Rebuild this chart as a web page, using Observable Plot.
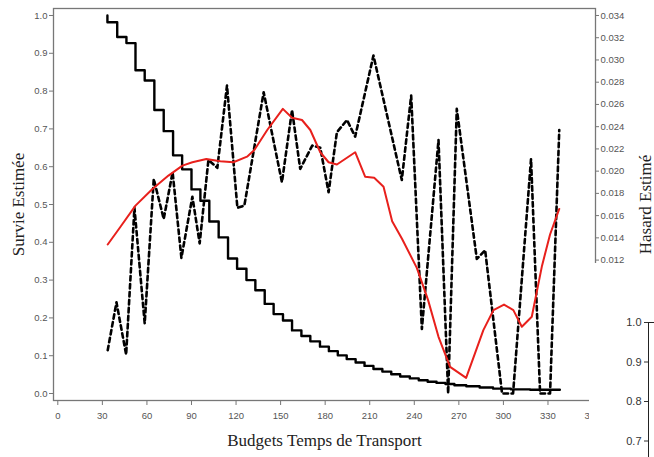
<!DOCTYPE html>
<html><head><meta charset="utf-8">
<script src="https://cdn.jsdelivr.net/npm/d3@7"></script>
<script src="https://cdn.jsdelivr.net/npm/@observablehq/plot@0.6"></script>
<style>
html,body{margin:0;padding:0;background:#fff;}
#wrap{position:relative;width:654px;height:457px;overflow:hidden;background:#fff;}
#mask{position:absolute;left:589px;top:263px;width:65px;height:194px;background:#fff;overflow:hidden;}
#frag{position:absolute;left:20px;top:37px;width:70px;height:190px;}
svg{display:block;max-width:none !important;}
</style></head><body>
<div id="wrap"><div id="main"></div><div id="mask"><div id="frag"></div></div></div>
<script>
// ---- tick labels ----
const xTicks = [0, 30, 60, 90, 120, 150, 180, 210, 240, 270, 300, 330, 360];
const survTicks = [0, 0.1, 0.2, 0.3, 0.4, 0.5, 0.6, 0.7, 0.8, 0.9, 1.0];
const hazTicks = [0.012, 0.014, 0.016, 0.018, 0.020, 0.022, 0.024, 0.026, 0.028, 0.030, 0.032, 0.034];
const fragTicks = [0.7, 0.8, 0.9, 1.0];

// ---- axis titles ----
const xTitle = "Budgets Temps de Transport";
const yLeftTitle = "Survie Estimée";
const yRightTitle = "Hasard Estimé";

// ---- Kaplan-Meier survival (step) ----
const survTime = [33.4, 33.4, 40.0, 46.2, 52.3, 58.5, 65.0, 71.3, 77.6, 83.7, 90.0, 96.0, 102.0, 108.3, 114.6, 120.7, 127.0, 133.0, 139.3, 145.3, 151.6, 157.7, 164.0, 170.0, 176.5, 182.5, 188.5, 194.5, 200.5, 206.5, 212.5, 218.5, 224.5, 230.5, 237.0, 243.0, 249.0, 255.0, 261.0, 267.0, 275.0, 284.0, 293.0, 305.0, 318.0, 338.0];
const survProb = [1.000, 0.982, 0.943, 0.927, 0.855, 0.828, 0.750, 0.694, 0.630, 0.593, 0.540, 0.510, 0.455, 0.413, 0.357, 0.330, 0.300, 0.273, 0.237, 0.210, 0.193, 0.167, 0.152, 0.138, 0.124, 0.112, 0.101, 0.091, 0.082, 0.073, 0.065, 0.058, 0.051, 0.045, 0.040, 0.035, 0.031, 0.028, 0.025, 0.022, 0.019, 0.016, 0.013, 0.011, 0.010, 0.010];

// ---- estimated hazard (dashed) ----
const hazTime = [33.6, 39.5, 46.0, 51.6, 58.5, 64.6, 71.3, 77.3, 83.2, 90.6, 95.5, 101.4, 107.4, 113.9, 120.9, 125.6, 138.6, 150.9, 157.7, 163.2, 171.3, 176.7, 182.3, 187.9, 194.7, 200.2, 212.5, 231.6, 237.9, 245.1, 256.3, 262.8, 268.6, 282.1, 287.7, 299.1, 306.5, 318.6, 324.7, 331.4, 337.6];
const hazValue = [0.0039, 0.0082, 0.0035, 0.0167, 0.0063, 0.0193, 0.0157, 0.0199, 0.0122, 0.0177, 0.0135, 0.0210, 0.0203, 0.0277, 0.0167, 0.0169, 0.0271, 0.0190, 0.0255, 0.0202, 0.0223, 0.0221, 0.0181, 0.0235, 0.0246, 0.0231, 0.0304, 0.0192, 0.0268, 0.0058, 0.0228, 0.0000, 0.0256, 0.0121, 0.0129, 0.0000, 0.0000, 0.0211, 0.0000, 0.0000, 0.0237];

// ---- smoothed hazard (red) ----
const smoothTime = [33.6, 42.2, 52.3, 63.7, 74.5, 83.9, 90.6, 100.0, 109.4, 118.2, 127.4, 132.3, 141.0, 151.5, 157.7, 164.4, 170.0, 176.7, 182.3, 187.9, 200.2, 206.9, 213.0, 219.3, 225.1, 231.8, 241.7, 249.3, 256.3, 264.1, 274.9, 286.5, 293.3, 300.4, 306.7, 312.4, 319.1, 326.0, 331.4, 337.6];
const smoothHaz = [0.0134, 0.0150, 0.0169, 0.0184, 0.0196, 0.0205, 0.0208, 0.0211, 0.0209, 0.0208, 0.0213, 0.0219, 0.0237, 0.0256, 0.0248, 0.0246, 0.0237, 0.0217, 0.0208, 0.0206, 0.0217, 0.0195, 0.0194, 0.0186, 0.0155, 0.0139, 0.0113, 0.0084, 0.0051, 0.0024, 0.0014, 0.0057, 0.0075, 0.0080, 0.0075, 0.0060, 0.0069, 0.0115, 0.0143, 0.0166];

// hazard axis maps 0..HMAX onto survival 0..1
const HMAX = 0.034;

const surv = survTime.map((t, i) => ({t, s: survProb[i]}));
const haz = hazTime.map((t, i) => ({t, y: hazValue[i] / HMAX}));
const smooth = smoothTime.map((t, i) => ({t, y: smoothHaz[i] / HMAX}));

const serif = "'Liberation Serif', 'Times New Roman', serif";
const axisGray = "#777";
const labelGray = "#555";

const chart = Plot.plot({
  width: 654, height: 457,
  marginLeft: 53, marginRight: 59, marginTop: 8, marginBottom: 57,
  x: {domain: [-2.9, 362]},
  y: {domain: [-0.0185, 1.0185]},
  style: {fontFamily: "'Liberation Sans', Arial, sans-serif", fontSize: "9.5px", background: "#fff", color: labelGray, overflow: "visible"},
  marks: [
    Plot.frame({stroke: axisGray, strokeWidth: 1.3}),
    Plot.axisY(survTicks, {anchor: "left", tickFormat: d => d.toFixed(1), tickSize: 4, tickPadding: 2, stroke: axisGray, fill: labelGray, label: null}),
    Plot.axisY(hazTicks.map(h => h / HMAX), {anchor: "right", tickFormat: d => (d * HMAX).toFixed(3), tickSize: 3, tickPadding: 2, stroke: axisGray, fill: labelGray, label: null}),
    Plot.axisX(xTicks, {anchor: "bottom", tickSize: 5, tickPadding: 7, stroke: axisGray, fill: labelGray, label: null}),
    Plot.line(haz, {x: "t", y: "y", stroke: "#000", strokeWidth: 2.6, strokeDasharray: "4.5,3.5"}),
    Plot.line(surv, {x: "t", y: "s", curve: "step-after", stroke: "#000", strokeWidth: 2.4}),
    Plot.line(smooth, {x: "t", y: "y", stroke: "#e8201c", strokeWidth: 2}),
    Plot.text([yLeftTitle], {text: d => d, frameAnchor: "left", textAnchor: "middle", lineAnchor: "middle", rotate: -90, dx: -35, fontFamily: serif, fontSize: 17, fill: "#222"}),
    Plot.text([yRightTitle], {text: d => d, frameAnchor: "right", textAnchor: "middle", lineAnchor: "middle", rotate: -90, dx: 50, fontFamily: serif, fontSize: 17, fill: "#222"}),
    Plot.text([xTitle], {text: d => d, frameAnchor: "bottom", dy: 45, fontFamily: serif, fontSize: 17, fill: "#222"})
  ]
});
document.getElementById("main").appendChild(chart);

// fragment of the neighbouring chart's axis (bottom-right corner)
const frag = Plot.plot({
  width: 70, height: 190,
  marginLeft: 39, marginRight: 0, marginTop: 22, marginBottom: 0,
  x: {domain: [0, 1], axis: null},
  y: {domain: [1.0 - 168 / 395, 1.0]},
  style: {fontFamily: "'Liberation Sans', Arial, sans-serif", fontSize: "11px", background: "#fff", color: "#333"},
  marks: [
    Plot.frame({stroke: "#222", strokeWidth: 1}),
    Plot.axisY(fragTicks, {anchor: "left", tickFormat: d => d.toFixed(1), tickSize: 4, tickPadding: 3, stroke: "#333", fill: "#333", label: null})
  ]
});
document.getElementById("frag").appendChild(frag);
</script>
</body></html>
